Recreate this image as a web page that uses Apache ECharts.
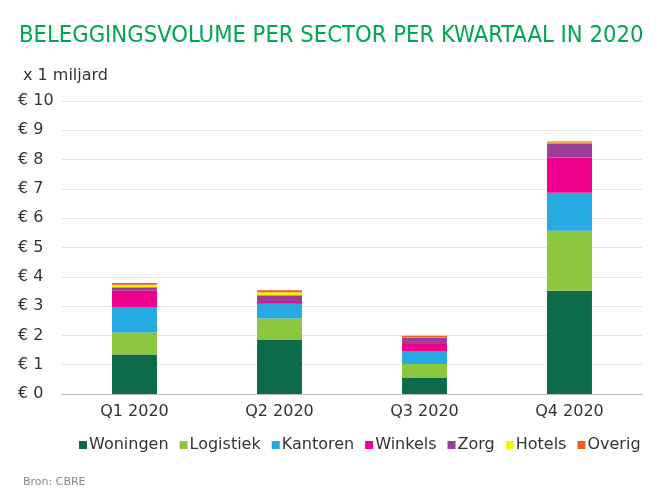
<!DOCTYPE html>
<html><head><meta charset="utf-8">
<script src="https://cdn.jsdelivr.net/npm/echarts@6/dist/echarts.min.js"></script>
<style>html,body{margin:0;padding:0;background:#fff}#c{width:660px;height:502px}</style>
</head><body><div id="c"></div>
<script>
const categories = ['Q1 2020','Q2 2020','Q3 2020','Q4 2020'];
const woningen  = [1.35, 1.84, 0.56, 3.52];
const logistiek = [0.75, 0.74, 0.46, 2.05];
const kantoren  = [0.85, 0.50, 0.45, 1.30];
const winkels   = [0.57, 0.06, 0.24, 1.20];
const zorg      = [0.12, 0.23, 0.22, 0.49];
const hotels    = [0.09, 0.10, 0.01, 0.02];
const overig    = [0.06, 0.07, 0.05, 0.04];
const seriesNames = ['Woningen','Logistiek','Kantoren','Winkels','Zorg','Hotels','Overig'];
const seriesData = [woningen, logistiek, kantoren, winkels, zorg, hotels, overig];
const colors = ['#0e6b4a','#8dc63f','#27aae1','#ec008c','#9b3f96','#fff200','#f15a29'];
const yTicks = {min:0, max:10, interval:1};

const narrow = 'Liberation Sans Narrow, DejaVu Sans Condensed, Liberation Sans, sans-serif';
const font = 'DejaVu Sans, Liberation Sans, sans-serif';
const chart = echarts.init(document.getElementById('c'), null, {renderer:'canvas'});
chart.setOption({
  animation:false,
  color: colors,
  textStyle:{fontFamily:font},
  title:[
    {text:'BELEGGINGSVOLUME PER SECTOR PER KWARTAAL IN 2020', left:14, top:19,
     textStyle:{color:'#00a651', fontSize:23.6, fontWeight:'normal', fontFamily:narrow}},
    {text:'x 1 miljard', left:18, top:63,
     textStyle:{color:'#333', fontSize:16, fontWeight:'normal', fontFamily:font}},
    {text:'Bron: CBRE', left:18, top:472,
     textStyle:{color:'#888', fontSize:11, fontWeight:'normal', fontFamily:font}}
  ],
  legend:{
    data: seriesNames, top:432, left:74, itemWidth:8, itemHeight:8, itemGap:11,
    icon:'rect',
    textStyle:{color:'#333', fontSize:16, fontFamily:font, padding:[0,0,0,-3]}
  },
  grid:{left:62, right:18, top:101, bottom:108},
  xAxis:{
    type:'category', data:categories,
    axisTick:{show:false},
    axisLine:{lineStyle:{color:'#bbb'}},
    axisLabel:{color:'#333', fontSize:16, margin:10, fontFamily:font}
  },
  yAxis:{
    type:'value', min:yTicks.min, max:yTicks.max, interval:yTicks.interval,
    axisLabel:{formatter:v=>'€ '+v, align:'left', margin:44, color:'#333', fontSize:16, fontFamily:font},
    splitLine:{lineStyle:{color:'#e3e3e3'}},
    axisLine:{show:false}, axisTick:{show:false}
  },
  series: seriesNames.map((n,i)=>({
    name:n, type:'bar', stack:'s', data:seriesData[i], barWidth:'31%'
  }))
});
</script></body></html>
